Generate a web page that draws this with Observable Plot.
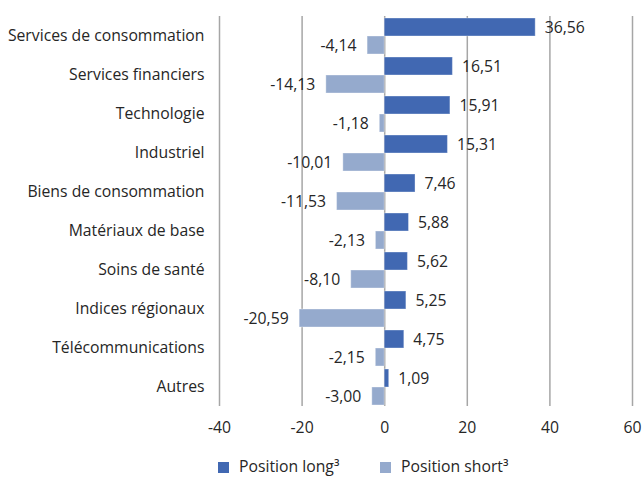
<!DOCTYPE html>
<html><head><meta charset="utf-8">
<script src="https://cdn.jsdelivr.net/npm/d3@7"></script>
<script src="https://cdn.jsdelivr.net/npm/@observablehq/plot@0.6"></script>
<style>
body{margin:0;background:#fff;font-family:"Open Sans",sans-serif;color:#262626;}
#legend{position:relative;height:20px;margin-top:11px;font-size:15.75px;}
.item{position:absolute;top:0;height:20px;line-height:20px;white-space:nowrap;}
.sw{display:inline-block;width:11px;height:11px;margin-right:10px;vertical-align:-1px;}
</style></head>
<body><div id="chart"></div>
<div id="legend"></div>
<script>
const categories = ["Services de consommation","Services financiers","Technologie","Industriel","Biens de consommation","Matériaux de base","Soins de santé","Indices régionaux","Télécommunications","Autres"];
const longValues = [36.56,16.51,15.91,15.31,7.46,5.88,5.62,5.25,4.75,1.09];
const shortValues = [-4.14,-14.13,-1.18,-10.01,-11.53,-2.13,-8.10,-20.59,-2.15,-3.00];
const seriesNames = ["Position long³","Position short³"];
const seriesColors = ["#4168B2","#95AACD"];
const xTicks = [-40,-20,0,20,40,60];

const data = categories.flatMap((c,i)=>[
  {cat:c, series:seriesNames[0], value:longValues[i]},
  {cat:c, series:seriesNames[1], value:shortValues[i]}
]);
const fmt = v => v.toFixed(2).replace(".", ",");

const chart = Plot.plot({
  width:644, height:445,
  marginTop:12, marginLeft:219, marginRight:12, marginBottom:36,
  style:{fontFamily:"Open Sans, sans-serif", fontSize:"15.75px", color:"#262626", background:"#fff"},
  x:{domain:[-40,60], ticks:xTicks, tickSize:0, tickPadding:15, label:null, tickFormat:d=>String(d)},
  fy:{domain:categories, padding:0, label:null, tickSize:0, tickPadding:15, axis:"left"},
  y:{domain:seriesNames, paddingInner:0, paddingOuter:0.07, axis:null},
  color:{domain:seriesNames, range:seriesColors},
  marks:[
    Plot.ruleX(xTicks, {stroke:"#a6a6a6", strokeWidth:1.5}),
    Plot.barX(data, {fy:"cat", y:"series", x:"value", fill:"series", stroke:"#ffffff", strokeOpacity:0.35, strokeWidth:1}),
    Plot.text(data.filter(d=>d.value>=0), {fy:"cat", y:"series", x:"value", text:d=>fmt(d.value), textAnchor:"start", dx:9, fill:"#262626"}),
    Plot.text(data.filter(d=>d.value<0), {fy:"cat", y:"series", x:"value", text:d=>fmt(d.value), textAnchor:"end", dx:-11, fill:"#262626"})
  ]
});
document.getElementById("chart").appendChild(chart);

const legend = document.getElementById("legend");
const lx = [218, 380];
seriesNames.forEach((s,i)=>{
  const it = document.createElement("div");
  it.className = "item";
  it.style.left = lx[i] + "px";
  it.innerHTML = `<span class="sw" style="background:${seriesColors[i]}"></span>${s}`;
  legend.appendChild(it);
});
</script>
</body></html>
